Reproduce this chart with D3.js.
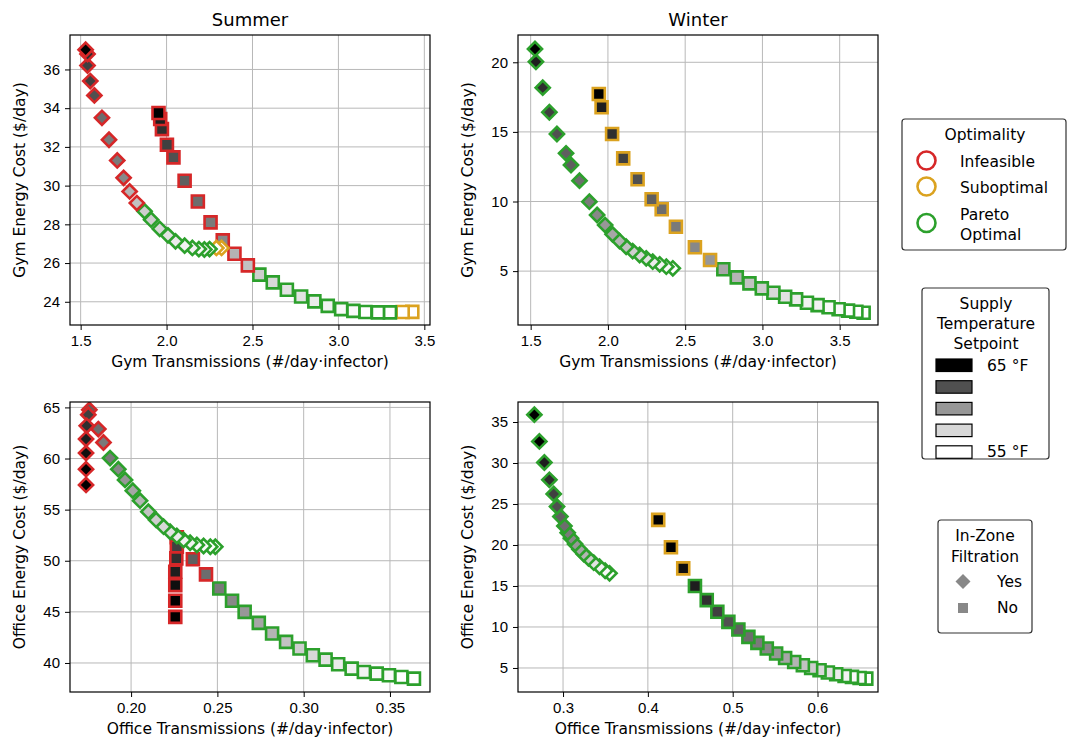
<!DOCTYPE html>
<html>
  <head>
    <meta charset="utf-8">
    <title>Gym and office: cost vs transmissions</title>
    <script src="https://d3js.org/d3.v7.min.js"></script>
    <style>
      body { margin: 0; background: #fff; }
      svg { font-family: "DejaVu Sans", sans-serif; }
      .grid line { stroke: #b8b8b8; stroke-width: 1; }
      .axis path { display: none; }
      .axis line { stroke: #000; stroke-width: 1; }
      .axis text { font-size: 15px; fill: #000; }
      .frame { fill: none; stroke: #000; stroke-width: 1.2; }
      .label { font-size: 15.5px; }
      .title { font-size: 18px; }
      .legendBox { fill: #fff; stroke: #333; stroke-width: 1.2; }
      .legend text { font-size: 15.5px; }
    </style>
  </head>
  <body>
    <svg id="chart" width="1068" height="751"></svg>
    <script>
      // each point: [transmissions, energy cost, supply temp (°F), optimality]
      // optimality: I = infeasible, S = suboptimal, P = pareto optimal
      const summerGymDiamonds = [
        [1.529, 37.02, 65, "I"], [1.540, 36.80, 63.5, "I"], [1.540, 36.20, 63, "I"], [1.556, 35.40, 63, "I"],
        [1.580, 34.66, 62.5, "I"], [1.624, 33.50, 61.5, "I"], [1.665, 32.37, 61, "I"], [1.713, 31.30, 61, "I"],
        [1.750, 30.40, 60.5, "I"], [1.785, 29.70, 59, "I"], [1.827, 29.10, 58.5, "I"], [1.872, 28.67, 58, "P"],
        [1.910, 28.24, 58, "P"], [1.960, 27.77, 57.5, "P"], [2.008, 27.43, 57, "P"], [2.052, 27.12, 56.5, "P"],
        [2.105, 26.90, 56, "P"], [2.150, 26.78, 56, "P"], [2.188, 26.72, 55.5, "P"], [2.220, 26.70, 55.5, "P"],
        [2.250, 26.72, 55, "P"], [2.290, 26.78, 55, "S"], [2.320, 26.78, 55, "S"]
      ];
      const summerGymSquares = [
        [1.953, 33.75, 65, "I"], [1.963, 33.44, 64, "I"], [1.973, 32.92, 63.5, "I"], [2.002, 32.11, 63, "I"],
        [2.040, 31.46, 62.5, "I"], [2.105, 30.25, 62, "I"], [2.182, 29.18, 61.5, "I"], [2.256, 28.10, 61, "I"],
        [2.327, 27.17, 60.5, "I"], [2.395, 26.48, 59, "I"], [2.473, 25.88, 58.5, "I"], [2.540, 25.40, 58, "P"],
        [2.618, 25.00, 57.5, "P"], [2.700, 24.62, 57, "P"], [2.783, 24.27, 57, "P"], [2.860, 24.02, 56.5, "P"],
        [2.938, 23.79, 56, "P"], [3.016, 23.62, 55.5, "P"], [3.087, 23.53, 55.5, "P"], [3.157, 23.47, 55, "P"],
        [3.230, 23.45, 55, "P"], [3.300, 23.45, 55, "P"], [3.374, 23.47, 55, "S"], [3.430, 23.48, 55, "S"]
      ];
      const winterGymDiamonds = [
        [1.528, 20.96, 65, "P"], [1.534, 20.04, 64, "P"], [1.578, 18.18, 63.5, "P"], [1.621, 16.41, 63, "P"],
        [1.670, 14.85, 62.5, "P"], [1.729, 13.46, 62, "P"], [1.761, 12.62, 62, "P"], [1.816, 11.50, 61.5, "P"],
        [1.880, 9.99, 61, "P"], [1.930, 9.03, 60.5, "P"], [1.982, 8.31, 60, "P"], [2.030, 7.64, 59.5, "P"],
        [2.075, 7.16, 59, "P"], [2.118, 6.75, 58.5, "P"], [2.160, 6.44, 58, "P"], [2.205, 6.16, 57.5, "P"],
        [2.248, 5.92, 57, "P"], [2.290, 5.68, 56.5, "P"], [2.335, 5.49, 56, "P"], [2.378, 5.32, 55.5, "P"],
        [2.420, 5.20, 55, "P"]
      ];
      const winterGymSquares = [
        [1.941, 17.72, 65, "S"], [1.959, 16.77, 64, "S"], [2.027, 14.85, 63.5, "S"], [2.099, 13.10, 63, "S"],
        [2.192, 11.60, 62.5, "S"], [2.283, 10.16, 62, "S"], [2.348, 9.44, 61.5, "S"], [2.440, 8.19, 61, "S"],
        [2.563, 6.71, 60.5, "S"], [2.661, 5.80, 60, "S"], [2.747, 5.13, 59.5, "P"], [2.834, 4.55, 59, "P"],
        [2.916, 4.12, 58.5, "P"], [2.996, 3.76, 58, "P"], [3.071, 3.45, 57.5, "P"], [3.147, 3.16, 57, "P"],
        [3.218, 2.97, 56.5, "P"], [3.288, 2.73, 56, "P"], [3.357, 2.56, 56, "P"], [3.428, 2.40, 55.5, "P"],
        [3.493, 2.26, 55.5, "P"], [3.554, 2.16, 55, "P"], [3.608, 2.08, 55, "P"], [3.655, 2.01, 55, "P"]
      ];
      const summerOfficeDiamonds = [
        [0.1739, 57.42, 65, "I"], [0.1739, 58.96, 65, "I"], [0.1739, 60.53, 64.5, "I"], [0.1739, 61.90, 64, "I"],
        [0.1743, 63.20, 63.5, "I"], [0.1752, 64.28, 63, "I"], [0.1758, 64.77, 62, "I"], [0.1810, 62.88, 61.5, "I"],
        [0.1840, 61.57, 61, "I"], [0.1878, 60.04, 61, "P"], [0.1926, 58.96, 60.5, "P"], [0.1965, 57.91, 60, "P"],
        [0.2010, 56.86, 59.5, "P"], [0.2052, 55.88, 59, "P"], [0.2100, 54.80, 58.5, "P"], [0.2145, 53.99, 58, "P"],
        [0.2188, 53.33, 57.5, "P"], [0.2226, 52.84, 57, "P"], [0.2265, 52.42, 56.5, "P"], [0.2304, 52.03, 56, "P"],
        [0.2342, 51.76, 56, "P"], [0.2381, 51.54, 55.5, "P"], [0.2420, 51.44, 55.5, "P"], [0.2459, 51.37, 55, "P"],
        [0.2488, 51.37, 55, "P"]
      ];
      const summerOfficeSquares = [
        [0.2256, 44.51, 65, "I"], [0.2256, 46.08, 65, "I"], [0.2256, 47.62, 64.5, "I"], [0.2256, 48.92, 64, "I"],
        [0.2262, 50.23, 63.5, "I"], [0.2265, 51.37, 63, "I"], [0.2265, 52.30, 62.5, "I"], [0.2358, 50.14, 62, "I"],
        [0.2434, 48.67, 61.5, "I"], [0.2511, 47.29, 61, "P"], [0.2585, 46.08, 60.5, "P"], [0.2658, 45.00, 60, "P"],
        [0.2740, 43.92, 59.5, "P"], [0.2817, 42.88, 59, "P"], [0.2898, 42.06, 58.5, "P"], [0.2976, 41.41, 58, "P"],
        [0.3053, 40.75, 57.5, "P"], [0.3127, 40.33, 57, "P"], [0.3200, 39.87, 56.5, "P"], [0.3278, 39.45, 56, "P"],
        [0.3349, 39.12, 56, "P"], [0.3423, 38.96, 55.5, "P"], [0.3494, 38.80, 55.5, "P"], [0.3566, 38.63, 55, "P"],
        [0.3639, 38.47, 55, "P"]
      ];
      const winterOfficeDiamonds = [
        [0.2662, 35.89, 65, "P"], [0.2721, 32.63, 65, "P"], [0.2780, 30.06, 64, "P"], [0.2839, 27.95, 63.5, "P"],
        [0.2890, 26.23, 63, "P"], [0.2929, 24.68, 62.5, "P"], [0.2969, 23.46, 62, "P"], [0.3016, 22.32, 61.5, "P"],
        [0.3055, 21.50, 61, "P"], [0.3094, 20.82, 60.5, "P"], [0.3142, 20.12, 60, "P"], [0.3193, 19.47, 59.5, "P"],
        [0.3244, 18.90, 59, "P"], [0.3300, 18.37, 58, "P"], [0.3362, 17.84, 57, "P"], [0.3430, 17.35, 56, "P"],
        [0.3496, 16.86, 55.5, "P"], [0.3548, 16.54, 55, "P"]
      ];
      const winterOfficeSquares = [
        [0.4122, 23.06, 65, "S"], [0.4272, 19.72, 65, "S"], [0.4417, 17.15, 64.5, "S"], [0.4555, 14.99, 64, "P"],
        [0.4694, 13.28, 63.5, "P"], [0.4819, 11.85, 63, "P"], [0.4949, 10.62, 62.5, "P"], [0.5067, 9.69, 62, "P"],
        [0.5185, 8.79, 61.5, "P"], [0.5291, 8.06, 61, "P"], [0.5402, 7.37, 60.5, "P"], [0.5512, 6.76, 60, "P"],
        [0.5618, 6.22, 59.5, "P"], [0.5725, 5.73, 59, "P"], [0.5827, 5.33, 58.5, "P"], [0.5925, 5.00, 58, "P"],
        [0.6024, 4.72, 57.5, "P"], [0.6122, 4.44, 57, "P"], [0.6220, 4.23, 56.5, "P"], [0.6319, 4.03, 56, "P"],
        [0.6406, 3.91, 55.5, "P"], [0.6496, 3.78, 55.5, "P"], [0.6575, 3.70, 55, "P"]
      ];

      // axis limits and ticks
      const gymXTicks = [1.5, 2.0, 2.5, 3.0, 3.5];
      const summerGymYTicks = [24, 26, 28, 30, 32, 34, 36];
      const winterGymYTicks = [5, 10, 15, 20];
      const summerOfficeXTicks = [0.20, 0.25, 0.30, 0.35];
      const summerOfficeYTicks = [40, 45, 50, 55, 60, 65];
      const winterOfficeXTicks = [0.3, 0.4, 0.5, 0.6];
      const winterOfficeYTicks = [5, 10, 15, 20, 25, 30, 35];
      const summerGymLimits = [[1.438, 3.533], [22.8, 37.78]];
      const winterGymLimits = [[1.418, 3.748], [1.13, 21.96]];
      const summerOfficeLimits = [[0.1646, 0.3732], [37.16, 65.53]];
      const winterOfficeLimits = [[0.2469, 0.6713], [2.07, 37.44]];

      const optimalityNames = ["Infeasible", "Suboptimal", "Pareto Optimal"];
      const optimalityColours = { I: "#d62728", S: "#dba21f", P: "#2ca02c" };
      const legendTemps = [65, 62.5, 60, 57.5, 55];

      const svg = d3.select("#chart");
      const grey = d3.scaleSequential(d3.interpolateGreys).domain([55, 65]);

      const cols = [70, 518], rows = [35, 402];
      const pw = 360, ph = 290;

      const panels = [
        { col: 0, row: 0, title: "Summer", sq: summerGymSquares, di: summerGymDiamonds, lim: summerGymLimits,
          xt: gymXTicks, yt: summerGymYTicks, xf: ".1f", xl: "Gym Transmissions (#/day\u00b7infector)", yl: "Gym Energy Cost ($/day)" },
        { col: 1, row: 0, title: "Winter", sq: winterGymSquares, di: winterGymDiamonds, lim: winterGymLimits,
          xt: gymXTicks, yt: winterGymYTicks, xf: ".1f", xl: "Gym Transmissions (#/day\u00b7infector)", yl: "Gym Energy Cost ($/day)" },
        { col: 0, row: 1, sq: summerOfficeSquares, di: summerOfficeDiamonds, lim: summerOfficeLimits,
          xt: summerOfficeXTicks, yt: summerOfficeYTicks, xf: ".2f", xl: "Office Transmissions (#/day\u00b7infector)", yl: "Office Energy Cost ($/day)" },
        { col: 1, row: 1, sq: winterOfficeSquares, di: winterOfficeDiamonds, lim: winterOfficeLimits,
          xt: winterOfficeXTicks, yt: winterOfficeYTicks, xf: ".1f", xl: "Office Transmissions (#/day\u00b7infector)", yl: "Office Energy Cost ($/day)" }
      ];

      const squareSym = d3.symbol().type(d3.symbolSquare).size(144)();
      const diamondSym = d3.symbol().type(d3.symbolSquare).size(100)();

      panels.forEach(function(p, i) {
        const left = cols[p.col], top = rows[p.row];
        const x = d3.scaleLinear().domain(p.lim[0]).range([0, pw]);
        const y = d3.scaleLinear().domain(p.lim[1]).range([ph, 0]);
        const g = svg.append("g").attr("transform", "translate(" + left + "," + top + ")");

        g.append("clipPath").attr("id", "clip" + i)
          .append("rect").attr("width", pw).attr("height", ph);

        // grid
        g.append("g").attr("class", "grid")
          .selectAll("line.v").data(p.xt).enter().append("line")
            .attr("x1", x).attr("x2", x).attr("y1", 0).attr("y2", ph);
        g.append("g").attr("class", "grid")
          .selectAll("line.h").data(p.yt).enter().append("line")
            .attr("y1", y).attr("y2", y).attr("x1", 0).attr("x2", pw);

        // axes
        g.append("g").attr("class", "axis")
          .attr("transform", "translate(0," + ph + ")")
          .call(d3.axisBottom(x).tickValues(p.xt).tickFormat(d3.format(p.xf)).tickSize(5).tickPadding(5));
        g.append("g").attr("class", "axis")
          .call(d3.axisLeft(y).tickValues(p.yt).tickFormat(d3.format("d")).tickSize(5).tickPadding(5));

        // markers: squares first, diamonds on top; darker points drawn last
        const marks = g.append("g").attr("clip-path", "url(#clip" + i + ")");
        marks.selectAll(".sq").data(p.sq.slice().reverse()).enter().append("path")
          .attr("d", squareSym)
          .attr("transform", function(d) { return "translate(" + x(d[0]) + "," + y(d[1]) + ")"; })
          .style("fill", function(d) { return grey(d[2]); })
          .style("stroke", function(d) { return optimalityColours[d[3]]; })
          .style("stroke-width", 2.6);
        marks.selectAll(".di").data(p.di.slice().reverse()).enter().append("path")
          .attr("d", diamondSym)
          .attr("transform", function(d) { return "translate(" + x(d[0]) + "," + y(d[1]) + ") rotate(45)"; })
          .style("fill", function(d) { return grey(d[2]); })
          .style("stroke", function(d) { return optimalityColours[d[3]]; })
          .style("stroke-width", 2.6);

        g.append("rect").attr("class", "frame").attr("width", pw).attr("height", ph);

        // labels
        g.append("text").attr("class", "label")
          .attr("x", pw / 2).attr("y", ph + 42)
          .attr("text-anchor", "middle").text(p.xl);
        g.append("text").attr("class", "label")
          .attr("transform", "translate(" + (-45) + "," + (ph / 2) + ") rotate(-90)")
          .attr("text-anchor", "middle").text(p.yl);
        if (p.title) {
          g.append("text").attr("class", "title")
            .attr("x", pw / 2).attr("y", -9)
            .attr("text-anchor", "middle").text(p.title);
        }
      });

      // legend: optimality
      const leg1 = svg.append("g").attr("class", "legend");
      leg1.append("rect").attr("class", "legendBox")
        .attr("x", 902).attr("y", 119).attr("width", 164).attr("height", 131).attr("rx", 3);
      leg1.append("text").attr("x", 985).attr("y", 140).attr("text-anchor", "middle").text("Optimality");
      const optY = [160.5, 186.5, 223];
      Object.keys(optimalityColours).forEach(function(k, i) {
        leg1.append("circle").attr("cx", 926.5).attr("cy", optY[i]).attr("r", 9)
          .style("fill", "none").style("stroke", optimalityColours[k]).style("stroke-width", 2.6);
        const words = optimalityNames[i].split(" ");
        words.forEach(function(w, j) {
          leg1.append("text").attr("x", 960)
            .attr("y", optY[i] + 6 - (words.length - 1) * 9.5 + j * 20).text(w);
        });
      });

      // legend: supply temperature setpoint
      const leg2 = svg.append("g").attr("class", "legend");
      leg2.append("rect").attr("class", "legendBox")
        .attr("x", 922).attr("y", 288).attr("width", 127).attr("height", 171).attr("rx", 3);
      ["Supply", "Temperature", "Setpoint"].forEach(function(t, i) {
        leg2.append("text").attr("x", 986).attr("y", 309 + i * 20).attr("text-anchor", "middle").text(t);
      });
      leg2.selectAll(".swatch").data(legendTemps).enter().append("rect")
        .attr("x", 936).attr("width", 36).attr("height", 12.5)
        .attr("y", function(d, i) { return 359 + i * 21.7; })
        .style("fill", function(d) { return grey(d); })
        .style("stroke", "#000").style("stroke-width", 1.2);
      leg2.append("text").attr("x", 987).attr("y", 371).text("65 \u00b0F");
      leg2.append("text").attr("x", 987).attr("y", 457).text("55 \u00b0F");

      // legend: in-zone filtration
      const leg3 = svg.append("g").attr("class", "legend");
      leg3.append("rect").attr("class", "legendBox")
        .attr("x", 938).attr("y", 520).attr("width", 94).attr("height", 113).attr("rx", 3);
      leg3.append("text").attr("x", 985).attr("y", 541).attr("text-anchor", "middle").text("In-Zone");
      leg3.append("text").attr("x", 985).attr("y", 562).attr("text-anchor", "middle").text("Filtration");
      leg3.append("path").attr("d", d3.symbol().type(d3.symbolSquare).size(112)())
        .attr("transform", "translate(963,581.5) rotate(45)").style("fill", "#888");
      leg3.append("path").attr("d", d3.symbol().type(d3.symbolSquare).size(100)())
        .attr("transform", "translate(963,608)").style("fill", "#888");
      leg3.append("text").attr("x", 997).attr("y", 587).text("Yes");
      leg3.append("text").attr("x", 997).attr("y", 613).text("No");
    </script>
  </body>
</html>
